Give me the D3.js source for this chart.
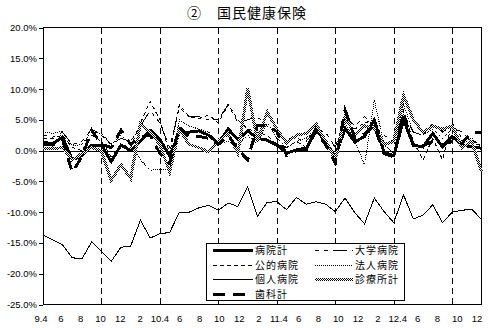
<!DOCTYPE html>
<html>
<head>
<meta charset="utf-8">
<script src="https://cdn.jsdelivr.net/npm/d3@7"></script>
<style>
  html, body { margin: 0; padding: 0; background: #fff; }
  svg { display: block; }
  text { fill: #000; }
</style>
</head>
<body>
<svg id="chart" width="489" height="328"></svg>
<script>
// Monthly growth rates (%), April 2009 – January 2013
const tickLabels = ["9.4","6","8","10","12","2","10.4","6","8","10","12","2","11.4","6","8","10","12","2","12.4","6","8","10","12"];

const byoinKei = [1.4,1.1,2.2,-1.5,-0.8,0.9,0.9,-1.8,0.9,0.0,
  1.5,3.3,1.8,-0.9,3.0,3.0,3.2,2.5,1.2,3.5,
  1.8,3.2,2.0,1.7,0.9,-0.4,0.1,0.1,3.6,1.4,
  -1.0,3.6,1.4,2.3,5.0,-0.3,-0.8,5.0,0.9,0.6,
  2.8,0.6,2.3,0.9,0.6,0.4];
const daigaku = [2.5,2.2,3.0,1.0,1.5,3.5,2.5,1.0,2.0,1.5,
  4.0,6.5,4.5,0.5,7.0,5.5,5.5,5.0,5.0,7.5,
  4.5,5.0,5.5,4.0,3.0,2.0,2.0,1.5,3.5,3.0,
  0.5,5.5,4.0,5.5,4.0,2.5,1.5,6.0,3.0,2.5,
  4.5,3.0,4.0,3.0,1.5,1.0];
const koteki = [2.0,2.0,2.5,0.5,0.0,2.5,1.5,-1.0,1.0,0.5,
  4.5,8.0,5.0,-0.5,7.5,5.5,5.2,5.8,4.5,7.5,
  5.0,3.5,3.0,2.5,1.0,0.5,1.5,0.5,3.0,2.0,
  -1.5,4.5,3.5,4.5,5.0,1.0,-0.5,6.5,1.5,-1.5,
  2.0,-1.5,4.5,2.0,1.0,1.0];
const hojin = [3.0,2.8,3.2,0.8,1.0,3.0,2.8,1.0,2.5,1.0,
  -1.5,-3.2,-3.0,-3.2,5.0,4.0,3.5,3.0,1.0,1.5,
  1.0,2.5,1.0,4.5,2.0,0.5,1.5,2.0,3.5,1.0,
  -0.5,4.5,1.5,-2.3,8.2,1.0,-0.5,7.5,3.0,2.5,
  3.5,2.0,3.5,1.5,2.0,0.5];
const kojin = [-13.7,-14.5,-15.3,-17.4,-17.6,-14.8,-16.4,-18.0,-15.7,-15.5,
  -11.3,-14.2,-13.5,-13.3,-10.0,-10.0,-9.3,-8.9,-9.7,-8.5,
  -9.1,-5.9,-10.7,-8.4,-8.3,-9.6,-7.6,-8.7,-8.3,-8.7,
  -9.9,-7.7,-10.1,-11.9,-7.7,-9.9,-11.7,-7.2,-11.1,-10.5,
  -8.8,-11.7,-10.0,-9.7,-9.5,-11.2];
const shinryojo = [0.3,0.3,0.5,-1.5,-0.5,0.5,0.0,-4.8,-2.3,-4.5,
  4.3,3.0,1.0,-3.5,3.5,1.0,0.5,-0.2,1.5,2.8,
  -0.5,10.1,1.5,6.3,3.5,1.2,2.5,2.8,4.4,1.5,
  -1.5,5.5,2.5,4.0,3.5,1.0,1.5,9.0,5.0,3.0,
  4.0,3.5,4.0,0.5,1.5,-3.5];
const shika = [1.0,0.9,1.8,-3.5,-1.0,3.3,1.0,0.5,3.3,1.0,
  2.2,2.5,-0.5,-2.0,3.8,2.2,2.3,2.0,1.0,2.5,
  0.2,-1.5,4.0,4.0,3.1,-0.8,0.0,0.5,3.0,1.0,
  -2.0,6.6,2.0,2.7,4.0,-0.5,-1.0,6.0,0.8,0.8,
  1.5,1.0,1.5,1.2,3.0,3.0];

const yTicks = [20,15,10,5,0,-5,-10,-15,-20,-25];

const series = [
  { name: "病院計",   values: byoinKei,  style: "hospital" },
  { name: "大学病院", values: daigaku,   style: "university" },
  { name: "公的病院", values: koteki,    style: "public" },
  { name: "法人病院", values: hojin,     style: "corporate" },
  { name: "個人病院", values: kojin,     style: "private" },
  { name: "診療所計", values: shinryojo, style: "clinic" },
  { name: "歯科計",   values: shika,     style: "dental" }
];

const styles = {
  hospital:   { width: 3,   dash: null,             color: "#000" },
  university: { width: 1,   dash: "4,5,4,5,14,5",   color: "#000" },
  public:     { width: 1,   dash: "4,3",            color: "#000" },
  corporate:  { width: 1,   dash: "1,1",            color: "#000" },
  private:    { width: 1,   dash: null,             color: "#000" },
  clinic:     { width: 3,   dash: null,             color: "url(#checker)" },
  dental:     { width: 3,   dash: "12,8",           color: "#000" }
};

const svg = d3.select("#chart");
const plotLeft = 43, plotRight = 481.5, plotTop = 27.5, plotBottom = 304.5;
const n = byoinKei.length;

const x = d3.scaleLinear().domain([0, n - 1]).range([plotLeft, plotRight]);
const y = d3.scaleLinear().domain([-25, 20]).range([plotBottom, plotTop]);
const labelX = d3.scaleLinear().domain([0, 44]).range([41, 477]);

// checkered stroke used for the clinic total
const defs = svg.append("defs");
const pat = defs.append("pattern").attr("id", "checker")
  .attr("patternUnits", "userSpaceOnUse").attr("width", 2).attr("height", 2);
pat.append("rect").attr("width", 2).attr("height", 2).attr("fill", "#fff");
pat.append("rect").attr("width", 1).attr("height", 1).attr("fill", "#000");
pat.append("rect").attr("x", 1).attr("y", 1).attr("width", 1).attr("height", 1).attr("fill", "#000");

// title
svg.append("text")
  .attr("x", 247).attr("y", 18)
  .attr("text-anchor", "middle")
  .style("font-family", "'Noto Sans CJK JP', sans-serif")
  .style("font-size", "14px")
  .style("letter-spacing", "1px")
  .text("②　国民健康保険");

// half-year dashed guides
const guides = d3.range(6, n, 6);
svg.append("g").selectAll("line").data(guides).join("line")
  .attr("x1", d => Math.round(x(d)) + 0.5).attr("x2", d => Math.round(x(d)) + 0.5)
  .attr("y1", plotTop).attr("y2", plotBottom)
  .attr("stroke", "#000").attr("stroke-width", 1)
  .attr("stroke-dasharray", "6,4")
  .attr("shape-rendering", "crispEdges");

// zero line
svg.append("line")
  .attr("x1", plotLeft).attr("x2", plotRight)
  .attr("y1", Math.round(y(0)) + 0.5).attr("y2", Math.round(y(0)) + 0.5)
  .attr("stroke", "#000").attr("stroke-width", 1)
  .attr("shape-rendering", "crispEdges");

// plot frame
svg.append("rect")
  .attr("x", plotLeft).attr("y", plotTop)
  .attr("width", plotRight - plotLeft).attr("height", plotBottom - plotTop)
  .attr("fill", "none").attr("stroke", "#000").attr("stroke-width", 1)
  .attr("shape-rendering", "crispEdges");

// y axis
const yAxis = svg.append("g")
  .attr("transform", `translate(${plotLeft},0)`)
  .call(d3.axisLeft(y).tickValues(yTicks).tickSize(4).tickSizeOuter(0)
    .tickFormat(d => d.toFixed(1) + "%"));
yAxis.select(".domain").attr("shape-rendering", "crispEdges");
yAxis.selectAll(".tick line").attr("shape-rendering", "crispEdges");
yAxis.selectAll("text")
  .attr("x", -6)
  .style("font-family", "'Liberation Sans', Arial, sans-serif")
  .style("font-size", "9.5px");

// x labels every two months
svg.append("g").selectAll("text").data(tickLabels).join("text")
  .attr("x", (d, i) => labelX(i * 2))
  .attr("y", 322)
  .attr("text-anchor", "middle")
  .style("font-family", "'Liberation Sans', Arial, sans-serif")
  .style("font-size", "9.5px")
  .text(d => d);

// series lines
const line = d3.line().x((d, i) => x(i)).y(d => y(d));
svg.append("g").selectAll("path").data(series).join("path")
  .attr("d", d => line(d.values))
  .attr("fill", "none")
  .attr("stroke", d => styles[d.style].color)
  .attr("stroke-width", d => styles[d.style].width)
  .attr("stroke-dasharray", d => styles[d.style].dash)
  .attr("stroke-linejoin", "miter")
  .attr("shape-rendering", "crispEdges");

// legend
const lg = svg.append("g");
lg.append("rect")
  .attr("x", 206.5).attr("y", 243.5).attr("width", 198).attr("height", 57)
  .attr("fill", "#fff").attr("stroke", "#000").attr("stroke-width", 1)
  .attr("shape-rendering", "crispEdges");
const rowsY = [250.5, 265, 279.5, 294];
const cols = [{ x1: 213, x2: 253, tx: 255 }, { x1: 315, x2: 353, tx: 355 }];
series.forEach((s, k) => {
  const c = cols[k % 2], ry = rowsY[Math.floor(k / 2)];
  const st = styles[s.style];
  lg.append("line")
    .attr("x1", c.x1).attr("x2", c.x2).attr("y1", ry).attr("y2", ry)
    .attr("stroke", st.color).attr("stroke-width", st.width)
    .attr("stroke-dasharray", st.dash)
    .attr("shape-rendering", "crispEdges");
  lg.append("text")
    .attr("x", c.tx).attr("y", ry + 3.5)
    .style("font-family", "'Noto Sans CJK JP', sans-serif")
    .style("font-size", "10px")
    .style("letter-spacing", "1px")
    .text(s.name);
});
</script>
</body>
</html>
